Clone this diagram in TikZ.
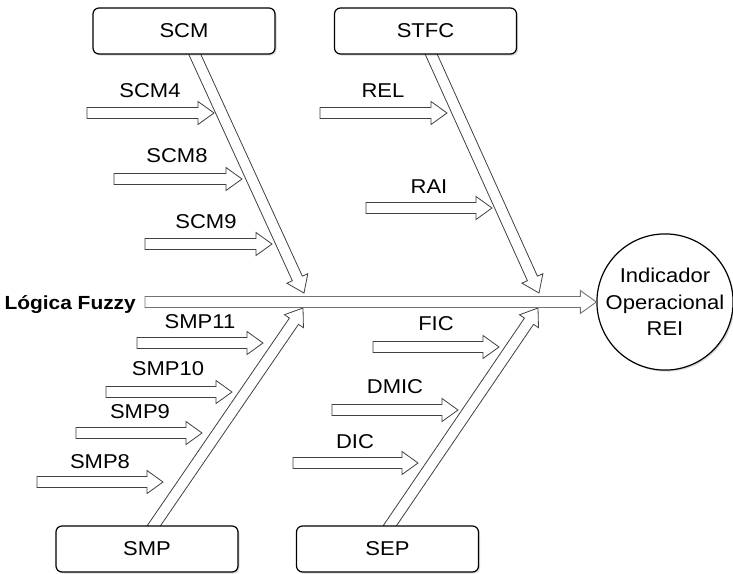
\documentclass[tikz,border=0pt]{standalone}
\usepackage{fontspec}
\setmainfont{Liberation Sans}[FakeStretch=1.1]
\usetikzlibrary{calc,positioning,shadows,backgrounds}

\tikzset{
	box/.style={draw, rectangle, rounded corners=6pt, line width=1.2pt, fill=white,
		minimum width=182pt, minimum height=46pt,
		drop shadow={opacity=0.3, shadow xshift=1.5pt, shadow yshift=-1.5pt}},
	effect/.style={draw, circle, line width=1.2pt, fill=white, minimum size=136pt,
		inner sep=0pt, align=center,
		drop shadow={opacity=0.3, shadow xshift=1.5pt, shadow yshift=-1.5pt}},
	lbl/.style={inner sep=0pt},
	arrowline/.style={draw=black!75, line width=0.8pt, fill=white, line join=miter},
	spineline/.style={draw=black!55, line width=0.9pt, fill=white, line join=miter},
}

% hollow arrow from #2 to #3
\newcommand\hollowarrow[3][arrowline]{%
	\coordinate (hb) at ($(#3)!16pt!(#2)$);
	\draw[#1] ($(#2)!5.5pt!-90:(#3)$) -- ($(hb)!5.5pt!90:(#2)$) -- ($(hb)!11.5pt!90:(#2)$)
		-- (#3) -- ($(hb)!11.5pt!-90:(#2)$) -- ($(hb)!5.5pt!-90:(#2)$)
		-- ($(#2)!5.5pt!90:(#3)$) -- cycle;}

\begin{document}
\begin{tikzpicture}[x=1pt, y=-1pt, font=\fontsize{20}{26.5}\selectfont]
	\useasboundingbox (0,0) rectangle (733,573);
	%\draw[help lines] (0,0) grid[step=50] (733,573);

	% causes
	\node[box] (scm) at (184,31) {SCM};
	\node[box] (stfc) at (425.5,31) {STFC};
	\node[box] (smp) at (147,549) {SMP};
	\node[box] (sep) at (387.5,549) {SEP};

	% effect
	\node[effect] (rei) at (665,302) {Indicador\\Operacional\\REI};
	\node[lbl, anchor=base east, font=\fontsize{19}{22}\selectfont\bfseries] (fuzzy) at (136,309) {Lógica Fuzzy};

	% bones
	\coordinate (scmbase) at ([xshift=9.5pt,yshift=3pt]scm.south);
	\coordinate (scmtip) at (304,293);
	\coordinate (stfcbase) at ([xshift=4.5pt,yshift=3pt]stfc.south);
	\coordinate (stfctip) at (539,293);
	\coordinate (smpbase) at ([xshift=5pt,yshift=-3pt]smp.north);
	\coordinate (smptip) at (303,308);
	\coordinate (sepbase) at ([xshift=0.5pt,yshift=-3pt]sep.north);
	\coordinate (septip) at (538,308);
	\coordinate (spinebase) at ([xshift=9pt]fuzzy.base east |- rei.west);

	\begin{scope}[on background layer]
		\hollowarrow{scmbase}{scmtip}
		\hollowarrow{stfcbase}{stfctip}
		\hollowarrow{smpbase}{smptip}
		\hollowarrow{sepbase}{septip}
	\end{scope}
	\hollowarrow[spineline]{spinebase}{rei.west}

	% SCM branches
	\coordinate (scm4a) at (87,113); \coordinate (scm4b) at (214,113);
	\coordinate (scm8a) at (114,179); \coordinate (scm8b) at (242,179);
	\coordinate (scm9a) at (145,244); \coordinate (scm9b) at (272,244);
	\hollowarrow{scm4a}{scm4b}
	\hollowarrow{scm8a}{scm8b}
	\hollowarrow{scm9a}{scm9b}
	\node[lbl] (scm4) at (150,91) {SCM4};
	\node[lbl] (scm8) at (177,156) {SCM8};
	\node[lbl] (scm9) at (206,222) {SCM9};

	% STFC branches
	\coordinate (rela) at (320,113); \coordinate (relb) at (447,113);
	\coordinate (raia) at (366,208); \coordinate (raib) at (492,208);
	\hollowarrow{rela}{relb}
	\hollowarrow{raia}{raib}
	\node[lbl] (rel) at (383,91) {REL};
	\node[lbl] (rai) at (429,187) {RAI};

	% SMP branches
	\coordinate (smp11a) at (137,343); \coordinate (smp11b) at (263,343);
	\coordinate (smp10a) at (106,392); \coordinate (smp10b) at (232,392);
	\coordinate (smp9a) at (76,433); \coordinate (smp9b) at (202,433);
	\coordinate (smp8a) at (37,482); \coordinate (smp8b) at (163,482);
	\hollowarrow{smp11a}{smp11b}
	\hollowarrow{smp10a}{smp10b}
	\hollowarrow{smp9a}{smp9b}
	\hollowarrow{smp8a}{smp8b}
	\node[lbl] (smp11) at (200,322) {SMP11};
	\node[lbl] (smp10) at (168,369) {SMP10};
	\node[lbl] (smp9) at (140,412) {SMP9};
	\node[lbl] (smp8) at (100,462) {SMP8};

	% SEP branches
	\coordinate (fica) at (373,347); \coordinate (ficb) at (499,347);
	\coordinate (dmica) at (332,410); \coordinate (dmicb) at (458,410);
	\coordinate (dica) at (293,463); \coordinate (dicb) at (418,463);
	\hollowarrow{fica}{ficb}
	\hollowarrow{dmica}{dmicb}
	\hollowarrow{dica}{dicb}
	\node[lbl] (fic) at (436,324) {FIC};
	\node[lbl] (dmic) at (395,387) {DMIC};
	\node[lbl] (dic) at (355,442) {DIC};
\end{tikzpicture}
\end{document}
